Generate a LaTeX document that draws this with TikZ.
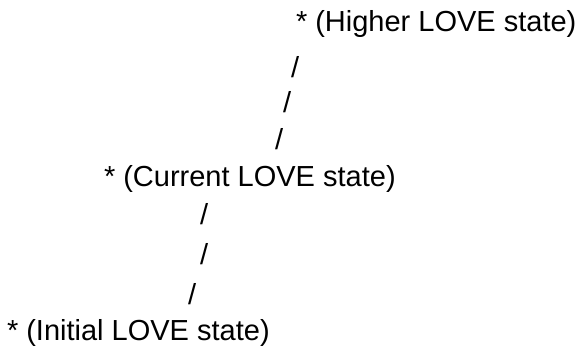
\documentclass[tikz,border=0pt]{standalone}
\usepackage{fontspec}
\setmainfont{Liberation Sans}
\begin{document}
\begin{tikzpicture}[x=1pt,y=-1pt,
  lbl/.style={anchor=base west,inner sep=0pt,outer sep=0pt,font=\fontsize{29}{35}\selectfont},
  sl/.style={lbl}]
\useasboundingbox[fill=white] (0,0) rectangle (582,350);
\node[lbl] (higher) at (296,32) {* (Higher LOVE state)};
\node[sl] (s1) at (291,78) {/};
\node[sl] (s2) at (283,113) {/};
\node[sl] (s3) at (275,150) {/};
\node[lbl] (current) at (104,187) {* (Current LOVE state)};
\node[sl] (s4) at (200,225) {/};
\node[sl] (s5) at (200,265) {/};
\node[sl] (s6) at (188,305) {/};
\node[lbl] (initial) at (7,341) {* (Initial LOVE state)};
\end{tikzpicture}
\end{document}
